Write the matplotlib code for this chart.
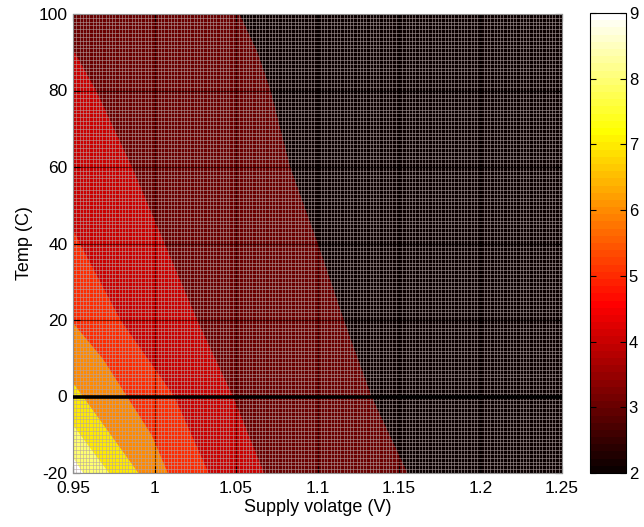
import numpy as np
import matplotlib
matplotlib.use("Agg")
import matplotlib.pyplot as plt  # noqa: E402
from matplotlib.colors import Normalize  # noqa: E402
from matplotlib.ticker import MultipleLocator  # noqa: E402

plt.rcParams["font.family"] = ["Liberation Sans", "DejaVu Sans"]
plt.rcParams["axes.unicode_minus"] = False

# colour scale and axis ranges
VMIN, VMAX = 2, 9
V_LIM = (0.95, 1.25)
T_LIM = (-20, 100)
ZERO_T = 0

# band boundaries: (temps, voltages) where level k+1 ends
# and level k begins (moving towards higher supply voltage)
t_23 = [-20, 0, 20, 40, 60, 80, 90, 100]
v_23 = [1.155, 1.133, 1.116, 1.100, 1.083, 1.071, 1.063, 1.052]
t_34 = [-20, 0, 20, 40, 60, 80, 90.6]
v_34 = [1.067, 1.048, 1.026, 1.006, 0.986, 0.964, 0.95]
t_45 = [-20, 0, 20, 40, 43.5]
v_45 = [1.033, 1.012, 0.979, 0.954, 0.95]
t_56 = [-20, -10, 0, 10, 19.2]
v_56 = [1.008, 0.998, 0.983, 0.968, 0.95]
t_67 = [-20, 0, 3.5]
v_67 = [0.990, 0.956, 0.95]
t_78 = [-20, -7.5]
v_78 = [0.972, 0.95]
t_89 = [-20, -16]
v_89 = [0.956, 0.95]

base_level = 2
band_levels = [3, 4, 5, 6, 7, 8, 9]
band_t = [t_23, t_34, t_45, t_56, t_67, t_78, t_89]
band_v = [v_23, v_34, v_45, v_56, v_67, v_78, v_89]

cmap = plt.get_cmap("hot", 64)
norm = Normalize(VMIN, VMAX)

fig = plt.figure(figsize=(6.44, 5.27), dpi=100)
ax = fig.add_axes([73 / 644, 54 / 527, 489 / 644, 459 / 527])
cax = fig.add_axes([590 / 644, 54 / 527, 36 / 644, 460 / 527])

ax.set_facecolor(cmap(norm(base_level)))
for lvl, tt, vv in zip(band_levels, band_t, band_v):
    ax.fill_betweenx(tt, V_LIM[0], vv, color=cmap(norm(lvl)), lw=0, zorder=1)

# fine mesh look of the original surface plot
ax.xaxis.set_minor_locator(MultipleLocator(0.002))
ax.yaxis.set_minor_locator(MultipleLocator(1))
ax.grid(True, which="minor", color="#b4a4a4", lw=0.6, alpha=0.65)
ax.grid(True, which="major", color="black", lw=0.8, alpha=0.55)
ax.tick_params(which="minor", length=0)

ax.axhline(ZERO_T, color="black", lw=2.6, zorder=3)

ax.set_xlim(*V_LIM)
ax.set_ylim(*T_LIM)
ax.set_xticks([0.95, 1.0, 1.05, 1.1, 1.15, 1.2, 1.25])
ax.set_xticklabels(["0.95", "1", "1.05", "1.1", "1.15", "1.2", "1.25"])
ax.set_yticks(range(-20, 101, 20))
ax.tick_params(which="major", direction="in", length=5, top=True, right=True,
               labelsize=12.5)
ax.tick_params(axis="x", pad=6)
ax.tick_params(axis="y", pad=4)
for sp in ax.spines.values():
    sp.set_color("#909090")
    sp.set_linewidth(0.8)
ax.set_xlabel("Supply volatge (V)", fontsize=13, labelpad=2)
ax.set_ylabel("Temp (C)", fontsize=13, labelpad=4)

sm = plt.cm.ScalarMappable(norm=norm, cmap=cmap)
cb = fig.colorbar(sm, cax=cax, ticks=range(VMIN, VMAX + 1))
cb.outline.set_linewidth(0.8)
cb.ax.tick_params(direction="in", length=4, left=True, right=True, labelsize=12, pad=2)

fig.savefig("out.png", dpi=100)
